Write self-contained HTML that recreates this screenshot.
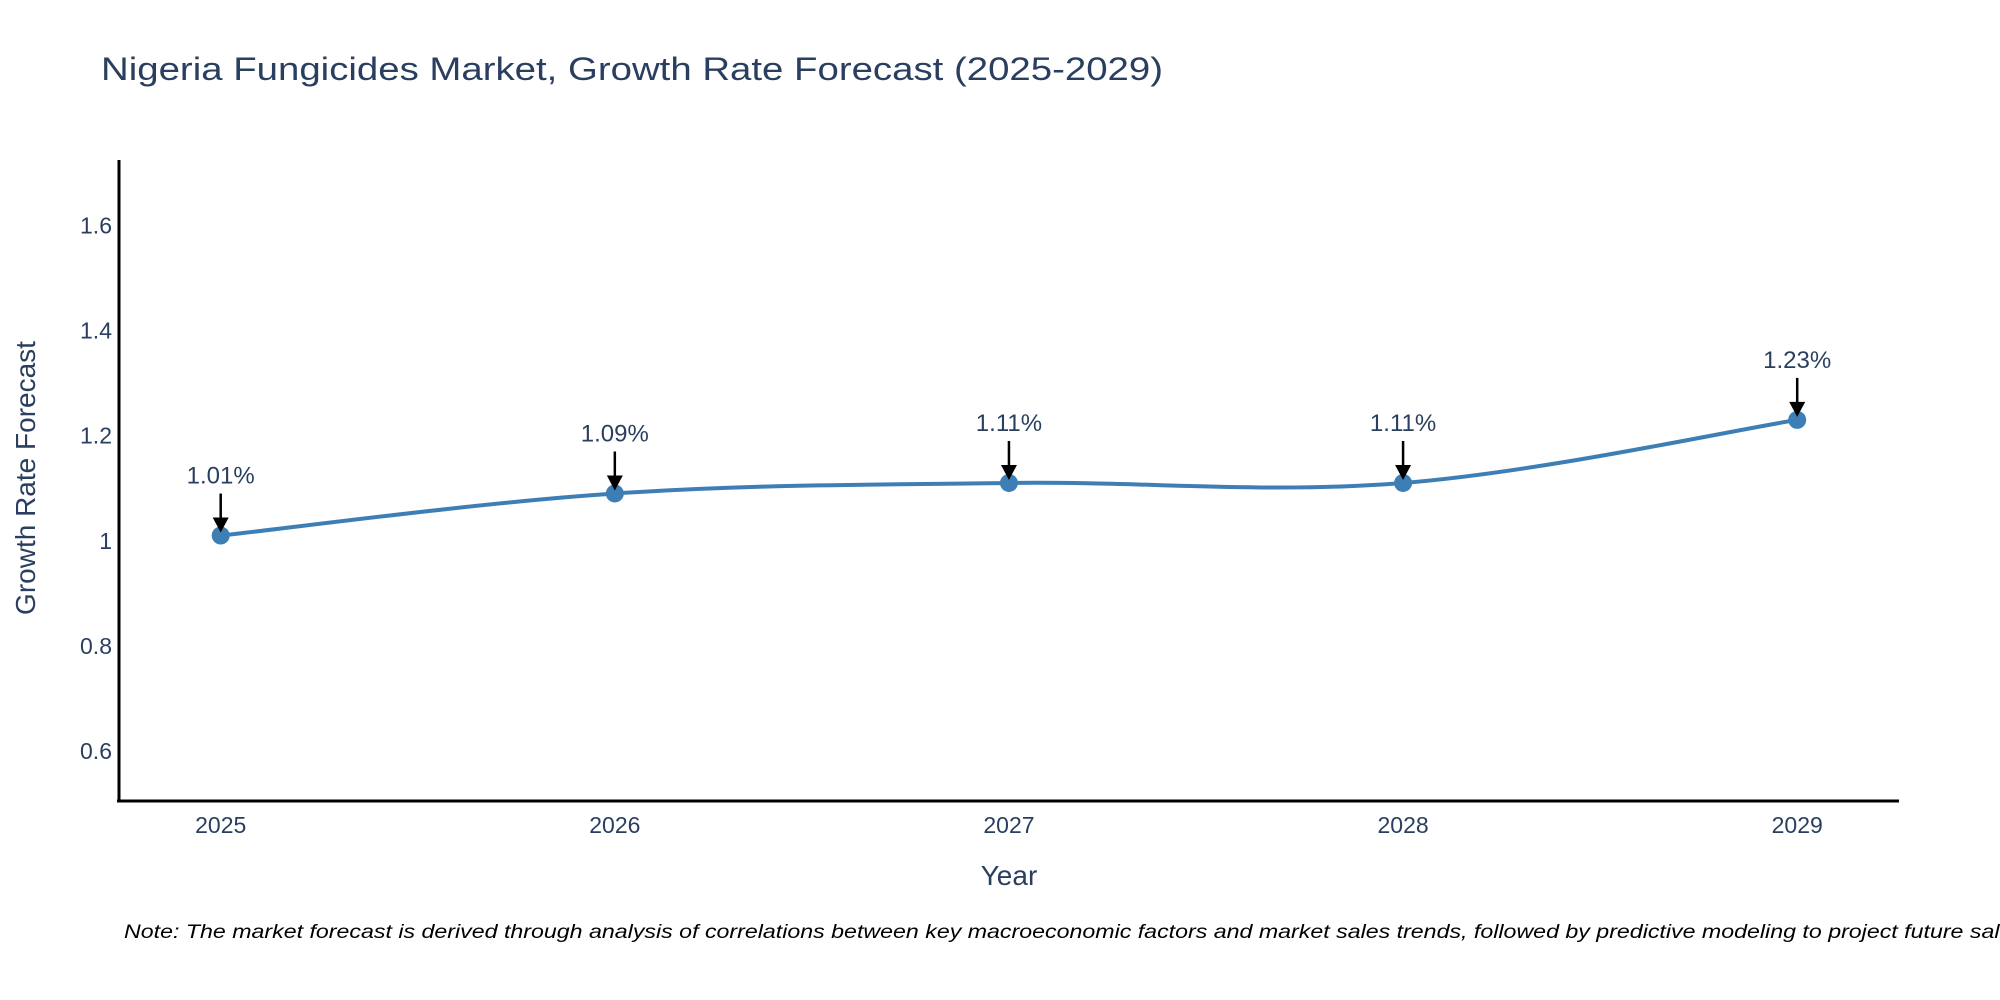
<!DOCTYPE html>
<html><head><meta charset="utf-8"><style>
html,body{margin:0;padding:0;background:#fff;width:2000px;height:1000px;overflow:hidden}
text{font-family:"Liberation Sans",sans-serif}
</style></head><body>
<svg id="chart" width="2000" height="1000" viewBox="0 0 2000 1000" xmlns="http://www.w3.org/2000/svg">
<text x="101" y="80" font-size="32" fill="#2a3f5f" textLength="1062" lengthAdjust="spacingAndGlyphs">Nigeria Fungicides Market, Growth Rate Forecast (2025-2029)</text>
<g id="yticks"></g>
<g id="xticks"></g>
<path id="line" fill="none" stroke="#3d7fb5" stroke-width="4"></path>
<g id="marks"></g>
<g id="annots"></g>
<line x1="119" y1="160" x2="119" y2="802" stroke="#000" stroke-width="3"/>
<line x1="117" y1="801" x2="1899" y2="801" stroke="#000" stroke-width="3"/>
<text x="1009" y="885" font-size="28" fill="#2a3f5f" text-anchor="middle">Year</text>
<text transform="translate(35,478) rotate(-90)" font-size="28" fill="#2a3f5f" text-anchor="middle">Growth Rate Forecast</text>
<text x="124" y="938" font-size="19" font-style="italic" fill="#000" textLength="1900" lengthAdjust="spacingAndGlyphs">Note: The market forecast is derived through analysis of correlations between key macroeconomic factors and market sales trends, followed by predictive modeling to project future sales</text>
</svg>
<script>
const years = ["2025","2026","2027","2028","2029"];
const values = [1.01, 1.09, 1.11, 1.11, 1.23];
const labels = ["1.01%","1.09%","1.11%","1.11%","1.23%"];
const yTickVals = [0.6, 0.8, 1, 1.2, 1.4, 1.6];
const yTickLabels = ["0.6","0.8","1","1.2","1.4","1.6"];

const NS = "http://www.w3.org/2000/svg";
function xScale(i){ return 220.7 + i * (1797.2 - 220.7) / (years.length - 1); }
function yScale(v){ return 540.8 - (v - 1) * 525.6; }
function mk(tag, attrs, parent){ const e=document.createElementNS(NS,tag); for(const k in attrs) e.setAttribute(k,attrs[k]); parent.appendChild(e); return e; }

const yt = document.getElementById("yticks");
yTickVals.forEach((v,i)=>{
  const t = mk("text",{x:112,y:yScale(v)+8,"font-size":23,fill:"#2a3f5f","text-anchor":"end"},yt);
  
  
  t.textContent = yTickLabels[i];
});
const xt = document.getElementById("xticks");
years.forEach((y,i)=>{
  const t = mk("text",{x:xScale(i),y:833,"font-size":23,fill:"#2a3f5f","text-anchor":"middle"},xt);
  
  
  t.textContent = y;
});

// spline (Catmull-Rom)
const pts = values.map((v,i)=>[xScale(i), yScale(v)]);
let d = "M"+pts[0][0]+","+pts[0][1];
const tension = 0.35;
for(let i=0;i<pts.length-1;i++){
  const p0=pts[Math.max(0,i-1)], p1=pts[i], p2=pts[i+1], p3=pts[Math.min(pts.length-1,i+2)];
  const c1=[p1[0]+(p2[0]-p0[0])*tension/2*1, p1[1]+(p2[1]-p0[1])*tension/2*1];
  const c2=[p2[0]-(p3[0]-p1[0])*tension/2*1, p2[1]-(p3[1]-p1[1])*tension/2*1];
  d += " C"+c1[0]+","+c1[1]+" "+c2[0]+","+c2[1]+" "+p2[0]+","+p2[1];
}
document.getElementById("line").setAttribute("d", d);

const mg = document.getElementById("marks");
const ag = document.getElementById("annots");
pts.forEach((p,i)=>{
  const c = mk("circle",{cx:p[0],cy:p[1],r:9,fill:"#3d7fb5"},mg);
  
  
  const ln = mk("line",{x1:p[0],y1:p[1]-42,x2:p[0],y2:p[1]-16,stroke:"#000","stroke-width":2.5},ag);
  
  
  const hd = mk("polygon",{points:(p[0]-8)+","+(p[1]-18)+" "+(p[0]+8)+","+(p[1]-18)+" "+p[0]+","+(p[1]-3),fill:"#000"},ag);
  
  
  const t = mk("text",{x:p[0],y:p[1]-52,"font-size":24,fill:"#2a3f5f","text-anchor":"middle"},ag);
  
  
  t.textContent = labels[i];
});
</script>
</body></html>
